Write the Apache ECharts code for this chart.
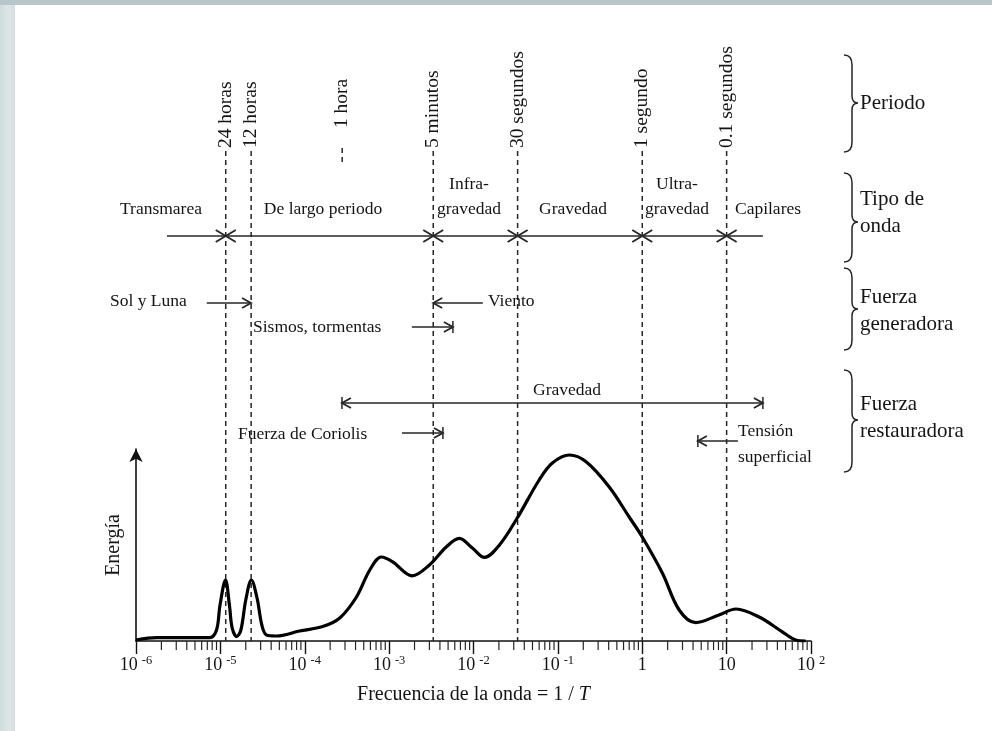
<!DOCTYPE html>
<html>
<head>
<meta charset="utf-8">
<script src="https://cdn.jsdelivr.net/npm/echarts@6/dist/echarts.min.js"></script>
<style>
  html, body { margin: 0; padding: 0; background: #ffffff; }
  #chart { width: 992px; height: 731px; }
</style>
</head>
<body>
<div id="chart"></div>
<script>
// Ocean wave energy spectrum: frequency (Hz) against energy (arbitrary units)
const frequency = [1.0e-6, 1.77e-6, 7.5e-6, 9.0e-6, 9.9e-6, 1.15e-5, 1.28e-5, 1.38e-5, 1.56e-5, 1.75e-5,
  2.0e-5, 2.33e-5, 2.72e-5, 3.1e-5, 3.52e-5, 4.6e-5, 8.7e-5, 1.63e-4, 2.6e-4, 4.1e-4,
  5.9e-4, 8.1e-4, 1.1e-3, 1.88e-3, 3.0e-3, 4.75e-3, 6.8e-3, 9.7e-3, 1.35e-2, 2.03e-2,
  3.3e-2, 6.0e-2, 8.6e-2, 0.137, 0.216, 0.406, 0.70, 1.0, 1.73, 2.74,
  4.3, 8.1, 12.9, 24.3, 45.7, 65.9, 86.5];
const energy = [0.5, 1.7, 1.7, 5.5, 18, 30.5, 18, 6.5, 2.2, 5.5,
  20.5, 30.5, 21.5, 8, 3, 2.5, 5, 7.2, 11.5, 22,
  35.5, 42, 39.6, 32.6, 38, 47, 51.3, 46.5, 41.8, 48,
  61.5, 80.5, 89, 93, 89.6, 77, 62, 52, 34, 15.5,
  9.2, 13, 16, 12, 4.6, 0.5, 0];

// Decade tick labels of the frequency axis
const decadeValues = [1e-6, 1e-5, 1e-4, 1e-3, 1e-2, 1e-1, 1, 10, 100];
const decadeBase = ['10', '10', '10', '10', '10', '10', '1', '10', '10'];
const decadePower = ['-6', '-5', '-4', '-3', '-2', '-1', '', '', '2'];
const minorMultipliers = [2, 3, 4, 5, 6, 7, 8, 9];

// Reference periods (seconds) marked with dashed lines
const periodLabels = ['24 horas', '12 horas', '1 hora', '5 minutos', '30 segundos', '1 segundo', '0.1 segundos'];
const periodSeconds = [86400, 43200, 3600, 300, 30, 1, 0.1];
const periodFullLine = [true, true, false, true, true, true, true];

// Wave types and the periods (by index above) that separate them
const waveTypeNames = ['Transmarea', 'De largo periodo', 'Infra-\ngravedad', 'Gravedad', 'Ultra-\ngravedad', 'Capilares'];
const waveTypeExtent = [2.33e-6, 26.9];
const waveTypeBoundaryPeriods = [0, 3, 4, 5, 6];

// Generating and restoring forces: frequency span of each arrow (tail -> head)
const forceNames = ['Sol y Luna', 'Viento', 'Sismos, tormentas', 'Gravedad', 'Fuerza de Coriolis', 'Tensión\nsuperficial'];
const forceFrom = [6.9e-6, 1.29e-2, 1.86e-3, 2.76e-4, 1.42e-3, 13.6];
const forceTo = [2.31e-5, 3.33e-3, 5.7e-3, 26.9, 4.34e-3, 4.56];

// Row titles on the right
const rowTitles = ['Periodo', 'Tipo de\nonda', 'Fuerza\ngeneradora', 'Fuerza\nrestauradora'];

const SERIF = '"Liberation Serif", "Times New Roman", serif';
const INK = '#141414';
const LINE_INK = '#262626';

// Layout of the annotation band above the plot (pixels)
const layout = {
  periodTextBottom: 148,
  periodLineTop: 151,
  hourStub: [148, 164],
  waveRowY: 236,
  waveTextY: 209,
  waveTextLineGap: 25,
  waveTextX: [161, 323, 469, 573, 677, 768],
  forceRows: [
    { y: 303, tx: 110, ty: 301, align: 'left', bar: false, tailHead: false },
    { y: 303, tx: 488, ty: 301, align: 'left', bar: false, tailHead: false },
    { y: 327, tx: 253, ty: 327, align: 'left', bar: true, tailHead: false },
    { y: 403, tx: 567, ty: 390, align: 'center', bar: true, tailHead: true },
    { y: 433, tx: 238, ty: 434, align: 'left', bar: true, tailHead: false },
    { y: 441, tx: 738, ty: 431, align: 'left', bar: true, tailHead: false }
  ],
  braces: [
    { y0: 55, y1: 152, tip: 103, ty: 103 },
    { y0: 173, y1: 262, tip: 222, ty: 199 },
    { y0: 268, y1: 350, tip: 309, ty: 297 },
    { y0: 370, y1: 472, tip: 420, ty: 404 }
  ],
  braceX: 844,
  titleX: 860,
  titleLineGap: 27
};

function textEl(str, x, y, size, align, vAlign, rotation) {
  return {
    type: 'text', x: x, y: y, rotation: rotation || 0,
    style: {
      text: str, fill: INK, fontSize: size, fontFamily: SERIF,
      align: align || 'left', verticalAlign: vAlign || 'middle'
    }
  };
}

function segment(x1, y1, x2, y2, dash) {
  return {
    type: 'line',
    shape: { x1: x1, y1: y1, x2: x2, y2: y2 },
    style: { stroke: LINE_INK, lineWidth: 1.5, lineDash: dash || null }
  };
}

// open arrow head with its tip at (x, y); dir = +1 points right, -1 points left
function arrowHead(x, y, dir, len, half) {
  return {
    type: 'polyline',
    shape: { points: [[x - dir * len, y - half], [x, y], [x - dir * len, y + half]] },
    style: { stroke: LINE_INK, lineWidth: 1.8, fill: null }
  };
}

function bracePath(x, y0, y1, tip) {
  const s = x + 8, t = x + 14;
  return 'M' + x + ' ' + y0 +
    ' Q' + s + ' ' + y0 + ' ' + s + ' ' + (y0 + 10) +
    ' L' + s + ' ' + (tip - 7) +
    ' Q' + s + ' ' + tip + ' ' + t + ' ' + tip +
    ' Q' + s + ' ' + tip + ' ' + s + ' ' + (tip + 7) +
    ' L' + s + ' ' + (y1 - 10) +
    ' Q' + s + ' ' + y1 + ' ' + x + ' ' + y1;
}

function renderAnnotations(params, api) {
  const X = f => api.coord([f, 0])[0];
  const yBase = api.coord([1, 0])[1];
  const kids = [];

  // dashed period lines with rotated labels
  periodSeconds.forEach((T, i) => {
    const x = X(1 / T);
    if (periodFullLine[i]) {
      kids.push(segment(x, layout.periodLineTop, x, yBase, [5, 4]));
    } else {
      kids.push(segment(x, layout.hourStub[0], x, layout.hourStub[1], [5, 4]));
    }
    kids.push(textEl(periodLabels[i], x, layout.periodTextBottom - (periodFullLine[i] ? 0 : 20), 19.5, 'left', 'middle', Math.PI / 2));
  });

  // wave type row
  const wy = layout.waveRowY;
  kids.push(segment(X(waveTypeExtent[0]), wy, X(waveTypeExtent[1]), wy));
  waveTypeBoundaryPeriods.forEach(pi => {
    const bx = X(1 / periodSeconds[pi]);
    kids.push(arrowHead(bx, wy, 1, 10, 6));
    kids.push(arrowHead(bx, wy, -1, 10, 6));
  });
  waveTypeNames.forEach((name, i) => {
    const lines = name.split('\n');
    lines.forEach((ln, j) => {
      const y = layout.waveTextY - (lines.length - 1 - j) * layout.waveTextLineGap;
      kids.push(textEl(ln, layout.waveTextX[i], y, 17.5, 'center', 'middle'));
    });
  });

  // force arrows
  forceNames.forEach((name, i) => {
    const r = layout.forceRows[i];
    const x0 = X(forceFrom[i]);
    const x1 = X(forceTo[i]);
    const dir = x1 > x0 ? 1 : -1;
    kids.push(segment(x0, r.y, x1, r.y));
    kids.push(arrowHead(x1, r.y, dir, 9, 5));
    if (r.bar) kids.push(segment(x1, r.y - 6, x1, r.y + 6));
    if (r.tailHead) {
      kids.push(arrowHead(x0, r.y, -dir, 9, 5));
      kids.push(segment(x0, r.y - 6, x0, r.y + 6));
    }
    name.split('\n').forEach((ln, j) => {
      kids.push(textEl(ln, r.tx, r.ty + j * 26, 17.5, r.align, 'middle'));
    });
  });

  // braces and row titles on the right
  layout.braces.forEach((b, i) => {
    kids.push({
      type: 'path',
      shape: { pathData: bracePath(layout.braceX, b.y0, b.y1, b.tip) },
      style: { stroke: LINE_INK, lineWidth: 1.5, fill: null }
    });
    rowTitles[i].split('\n').forEach((ln, j) => {
      kids.push(textEl(ln, layout.titleX, b.ty + j * layout.titleLineGap, 21, 'left', 'middle'));
    });
  });

  return { type: 'group', children: kids };
}

// minor ticks at 2..9 times each decade
const minorTicks = [];
for (let d = 0; d < decadeValues.length - 1; d++) {
  minorMultipliers.forEach(m => minorTicks.push([decadeValues[d] * m, 0]));
}

function renderMinorTick(params, api) {
  const p = api.coord([api.value(0), 0]);
  return {
    type: 'line',
    shape: { x1: p[0], y1: p[1], x2: p[0], y2: p[1] + 9 },
    style: { stroke: LINE_INK, lineWidth: 1.2 }
  };
}

const chart = echarts.init(document.getElementById('chart'));
chart.setOption({
  animation: false,
  backgroundColor: '#ffffff',
  grid: { left: 136, right: 181, top: 449, bottom: 90 },
  xAxis: {
    type: 'log', logBase: 10, min: 1e-6, max: 100, splitNumber: 8,
    name: 'Frecuencia de la onda = 1 / {i|T}',
    nameLocation: 'middle', nameGap: 44,
    nameTextStyle: {
      fontFamily: SERIF, fontSize: 20, color: INK,
      rich: { i: { fontFamily: SERIF, fontSize: 20, fontStyle: 'italic', color: INK } }
    },
    axisLine: { show: true, lineStyle: { color: '#111', width: 1.6 } },
    axisTick: { show: true, length: 13, lineStyle: { color: '#111', width: 1.4 } },
    minorTick: { show: false },
    splitLine: { show: false },
    axisLabel: {
      margin: 13,
      showMinLabel: true, showMaxLabel: true,
      formatter: function (v) {
        const e = Math.round(Math.log10(v));
        const i = decadeValues.findIndex(d => Math.round(Math.log10(d)) === e);
        if (i < 0) return '';
        return '{b|' + decadeBase[i] + '}' + (decadePower[i] ? '{s|' + decadePower[i] + '}' : '');
      },
      rich: {
        b: { fontFamily: SERIF, fontSize: 18, color: INK, lineHeight: 22 },
        s: { fontFamily: SERIF, fontSize: 12.5, color: INK, verticalAlign: 'top', padding: [0, 0, 0, 4], lineHeight: 13 }
      }
    }
  },
  yAxis: {
    type: 'value', min: 0, max: 96,
    name: 'Energía', nameLocation: 'middle', nameGap: 12,
    nameTextStyle: { fontFamily: SERIF, fontSize: 20, color: INK },
    axisLine: { show: true, symbol: ['none', 'arrow'], symbolSize: [10, 13], lineStyle: { color: '#111', width: 1.6 } },
    axisTick: { show: false },
    axisLabel: { show: false },
    splitLine: { show: false }
  },
  graphic: [
    { type: 'rect', z: -10, shape: { x: 0, y: 0, width: 15, height: 731 },
      style: { fill: new echarts.graphic.LinearGradient(0, 0, 1, 0, [
        { offset: 0, color: '#cfdbdb' }, { offset: 0.6, color: '#dde6e6' }, { offset: 1, color: '#d2dddd' }]) } },
    { type: 'rect', z: -10, shape: { x: 0, y: 0, width: 992, height: 5 }, style: { fill: '#b7c7c9' } }
  ],
  series: [
    {
      type: 'custom', name: 'annotations', renderItem: renderAnnotations,
      data: [[1, 0]], silent: true, z: 1
    },
    {
      type: 'custom', name: 'minor ticks', renderItem: renderMinorTick,
      data: minorTicks, silent: true, z: 1
    },
    {
      type: 'line', name: 'Energía',
      data: frequency.map((f, i) => [f, energy[i]]),
      smooth: 0.35, showSymbol: false, z: 3,
      lineStyle: { color: '#000', width: 3.2 }
    }
  ]
});
</script>
</body>
</html>
